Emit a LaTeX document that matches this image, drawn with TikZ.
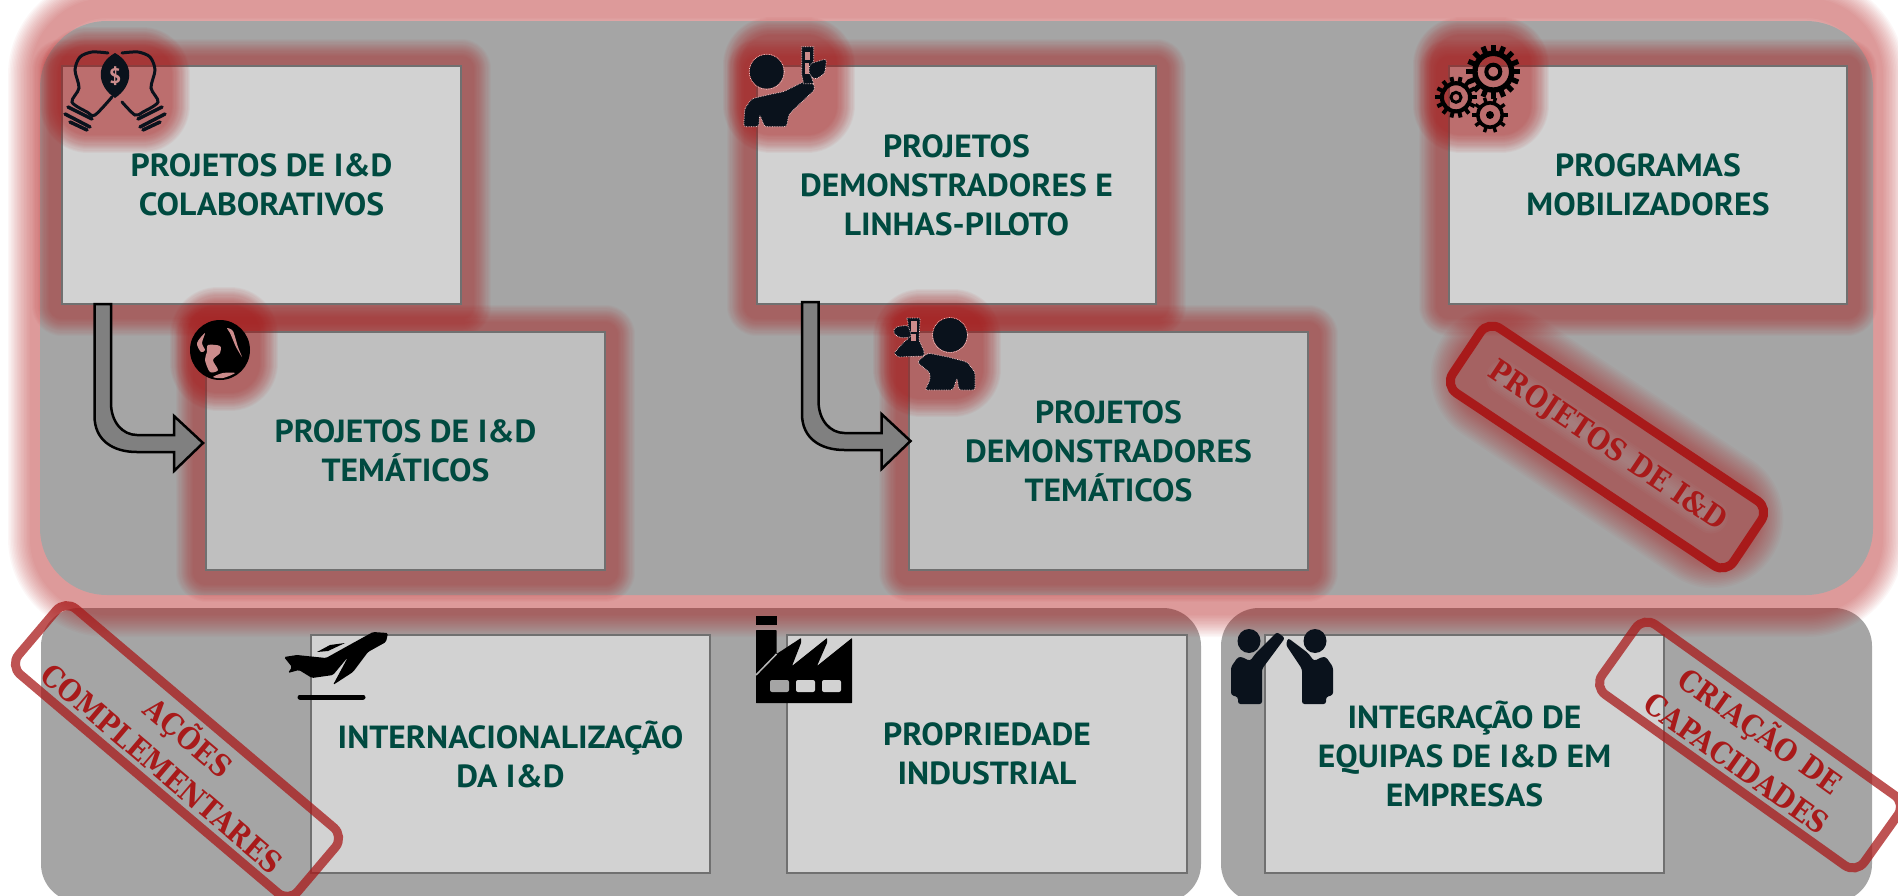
\documentclass[tikz,border=0pt]{standalone}
\usepackage{fontspec}
\usetikzlibrary{calc}
\setmainfont{PT Sans}
\newfontfamily\boxfont[BoldFeatures={FakeStretch=1.05}]{PT Sans}
\newfontfamily\stampfont[BoldFeatures={FakeStretch=0.88}]{DejaVu Serif}
\definecolor{panelc}{HTML}{A5A5A5}
\definecolor{boxa}{HTML}{D2D2D2}
\definecolor{boxb}{HTML}{BFBFBF}
\definecolor{edgec}{HTML}{707070}
\definecolor{textc}{HTML}{004A40}
\definecolor{glowc}{HTML}{B01818}
\definecolor{stampc}{HTML}{A81A1A}
\definecolor{inkc}{HTML}{0A121C}
\definecolor{tintc}{HTML}{CC8C8C}
\tikzset{
  panel/.style={rectangle,fill=panelc,anchor=north west,rounded corners=38,outer sep=0,inner sep=0},
  cardbox/.style={rectangle,draw=edgec,line width=2.5,anchor=north west,outer sep=0,inner sep=0,
    minimum width=399,minimum height=238,align=center,text=textc,
    font=\boxfont\bfseries\fontsize{32}{39}\selectfont},
  stamp/.style={rectangle,draw=stampc,line width=9,rounded corners=14,inner sep=0,outer sep=0,
    align=center,text=stampc,font=\stampfont\bfseries\fontsize{30}{40}\selectfont},
  bentblock/.style={draw=black,fill=gray,line width=2.5,line join=miter},
  halo/.style={draw=glowc,draw opacity=0.035,line join=round,line cap=round},
  iconhalo/.style={draw=glowc,draw opacity=0.042,line join=round,line cap=round},
  inkshape/.style={fill=inkc,draw=white!85!red,line width=0.7,densely dotted},
}
\newcommand\glowpath[3]{%
  \foreach \i in {0,...,15}{%
    \pgfmathsetmacro\glw{2*(#2-(#2-#1)*\i/15)}%
    \draw[halo,line width=\glw pt] #3;
  }}
\newcommand\glowbox[4]{\glowpath{13}{30}{(#1,#2+3) rectangle (#1+#3,#2+#4+3)}}
\newcommand\glowicon[4]{%
  \foreach \i in {0,...,15}{%
    \pgfmathsetmacro\glw{2*(48-18*\i/15)}%
    \draw[iconhalo,line width=\glw pt] (#1-#3+48,#2-#4+48) rectangle (#1+#3-48,#2+#4-48);
  }}
% centre x, centre y, outer radius, number of teeth
\newcommand\gearwheel[4]{%
  \draw[black,line width=#3*0.2] (#1,#2) circle [radius=#3*0.68];
  \pgfmathsetmacro\gstep{360/#4}%
  \foreach \k in {1,...,#4}{%
    \pgfmathsetmacro\ga{\k*\gstep}%
    \draw[black,line width=#3*0.19] ($(#1,#2)+(\ga:#3*0.7)$) -- ($(#1,#2)+(\ga:#3)$);}%
}
\newcommand\personbody{%
  \fill[inkc] (0,0) circle [radius=17];
  \draw[white!85!red,line width=0.7,densely dotted] (0,0) circle [radius=17.5];
}
\newcommand\bulbhalf[2]{%
  \draw[inkc,line width=3,line cap=round] plot[smooth] coordinates {(#1,#2) (-20,25) (-28,22) (-43,12) (-36,-2) (-40,-20) (-35,-33) (-23,-38) (-7,-37)};
  \draw[inkc,line width=3.5,line cap=round] (-47,17) -- (-23,29);
  \draw[inkc,line width=3.5,line cap=round] (-50,24) -- (-25,37);
  \draw[inkc,line width=3.5,line cap=round] (-45,32) -- (-28,40);
}
\newcommand\bentarrow[1]{%
  \begin{scope}[shift={(#1)}]
  \draw[bentblock] (0,0) -- (0,112) .. controls (0,136) and (18,148) .. (42.5,148)
    -- (79.5,148) -- (79.5,167) -- (108.5,139) -- (79.5,112) -- (79.5,131) -- (42.5,131)
    .. controls (28,131) and (16.5,118) .. (16.5,99) -- (16.5,0) -- cycle;
  \end{scope}}
% arm tip points differ between the two figures
\newcommand\highfiveperson[2]{%
  \fill[inkc] (1249,641) ellipse [x radius=11.5,y radius=12];
  \fill[inkc,rounded corners=2.5] (1238,657) -- (1231,667) -- (1231,695) -- (1238,697) -- (1238,704) -- (1262,704) -- (1262,669) -- #1 -- #2 -- (1256,653) -- (1250,661) -- (1242,657) -- cycle;
}
\begin{document}
\begin{tikzpicture}[x=1pt,y=-1pt]
\useasboundingbox (0,0) rectangle (1898,895);
\clip (0,0) rectangle (1898,895);

% lower panels
\node[panel,minimum width=1160,minimum height=294] (lowa) at (41,608) {};
\node[panel,minimum width=651,minimum height=294] (lowb) at (1221,608) {};

% top panel with glow
\glowpath{10}{32}{[rounded corners=67] (40,8) rectangle (1873,605)}
\node[panel,rounded corners=67,minimum width=1833,minimum height=574] (top) at (40,21) {};

% cards with glow
\glowbox{62}{66}{399}{237}
\node[cardbox,fill=boxa] (b1) at (62,66) {PROJETOS DE I\&D\\COLABORATIVOS};
\glowbox{206}{332}{399}{237}
\node[cardbox,fill=boxb] (b2) at (206,332) {PROJETOS DE I\&D\\TEMÁTICOS};
\glowbox{757}{66}{399}{237}
\node[cardbox,fill=boxa] (b3) at (757,66) {PROJETOS\\DEMONSTRADORES E\\LINHAS-PILOTO};
\glowbox{909}{332}{399}{237}
\node[cardbox,fill=boxb] (b4) at (909,332) {PROJETOS\\DEMONSTRADORES\\TEMÁTICOS};
\glowbox{1449}{66}{398}{237}
\node[cardbox,fill=boxa,minimum width=398] (b5) at (1449,66) {PROGRAMAS\\MOBILIZADORES};

\node[cardbox,fill=boxa] (b6) at (311,635) {INTERNACIONALIZAÇÃO\\DA I\&D};
\node[cardbox,fill=boxa,minimum width=400] (b7) at (787,635) {PROPRIEDADE\\INDUSTRIAL};
\node[cardbox,fill=boxa] (b8) at (1265,635) {INTEGRAÇÃO DE\\EQUIPAS DE I\&D EM\\EMPRESAS};

% bent block arrows
\coordinate (sa) at ($(b1.south west)+(32.5,0)$);
\bentarrow{sa}
\coordinate (sb) at ($(b3.south west)+(45,-2)$);
\bentarrow{sb}

% icon glows
\glowicon{115}{90}{75}{63}
\glowicon{224}{349}{54}{62}
\glowicon{789}{85}{66}{68}
\glowicon{937}{353}{64}{64}
\glowicon{1481}{85}{68}{68}

% light bulbs
\begin{scope}[shift={(115,90)}]
  \bulbhalf{-3}{7}
  \begin{scope}[xscale=-1]\bulbhalf{-7}{12}\end{scope}
  \fill[inkc] (0,-37) .. controls (-20,-26) and (-18,-4) .. (0,8) .. controls (18,-4) and (20,-26) .. (0,-37) -- cycle;
  \node[text=tintc,font=\boxfont\bfseries\fontsize{21}{21}\selectfont,inner sep=0] (dollar) at (0,-14) {\$};
\end{scope}

% globe
\begin{scope}[shift={(220,350)}]
  \fill[black] (0,0) circle [radius=30];
  \fill[tintc] plot[smooth cycle] coordinates {(-15,-17) (-23,-7) (-19,2) (-15,0) (-18,-7)};
  \fill[tintc] plot[smooth cycle,tension=0.5] coordinates {(-12,-5) (0,-4) (0,3) (-7,10) (-2,20) (-10,22) (-15,10) (-13,2)};
  \fill[tintc] plot[smooth cycle,tension=0.4] coordinates {(7,-22) (13,-19) (18,-3) (22,7) (16,-3) (13,-10) (10,-17)};
  \fill[tintc] plot[smooth cycle] coordinates {(-7,27) (3,23) (15,23) (3,28)};
\end{scope}

% scientist with test tube
\begin{scope}[shift={(766.7,71.7)}]
  \personbody
  \path[inkshape,rounded corners=2.5] (-23,55) -- (-22,37) -- (-15,27) -- (2,23) -- (17,20) -- (37,10) -- (47,12) -- (48,18) -- (30,35) -- (22,43) -- (20,55) -- (-2,55) -- (-7,43) -- (-8,55) -- cycle;
  \path[inkshape] (35,-25) -- (47,-25) -- (47,-11) -- (44,3) -- (47,12) -- (37,12) -- (35,3) -- cycle;
  \fill[tintc] (38,-20) rectangle (43,-12);
  \fill[tintc] (38,-9) rectangle (42,2);
  \path[inkshape,rounded corners=3] (43,-8) -- (60,-13) -- (58,2) -- (48,8) -- (42,2) -- cycle;
\end{scope}

% scientist with flask
\begin{scope}[shift={(950,335)}]
  \personbody
  \path[inkshape,rounded corners=2.5] (25,55) -- (25,37) -- (17,27) -- (-2,22) -- (-22,18) -- (-33,27) -- (-20,38) -- (-20,45) -- (-25,55) -- (3,55) -- (7,43) -- (9,55) -- cycle;
  \path[inkshape,rounded corners=1] (-44,-17) -- (-30,-17) -- (-30,-14) -- (-31,5) -- (-26,16) -- (-26,21) -- (-52,22) -- (-56,18) -- (-46,7) -- (-42,4) -- (-42,-14) -- cycle;
  \fill[tintc] (-39,-14) rectangle (-33,-3);
  \fill[tintc] (-39,-1) rectangle (-34,6);
  \path[inkshape,rounded corners=3] (-55,-8) -- (-42,-10) -- (-38,2) -- (-50,3) -- (-57,-2) -- cycle;
\end{scope}

% gears
\gearwheel{1493.3}{71.7}{27}{16}
\draw[black,line width=4] (1493.3,71.7) circle [radius=7];
\gearwheel{1456}{97.3}{20.7}{14}
\draw[black,line width=3] (1456,97.3) circle [radius=5];
\gearwheel{1490}{115}{18}{10}
\fill[black] (1490,115) circle [radius=4];

% stamp of the top panel
\coordinate (stc) at (1607,447);
\glowpath{46}{70}{($(stc)+(33.8:-128)$) -- ($(stc)+(33.8:128)$)}
\foreach \wd in {6,10,...,34}{\draw[panelc,draw opacity=0.07,line width=\wd,line cap=round] ($(stc)+(33.8:-125)$) -- ($(stc)+(33.8:125)$);}
\node[stamp,rotate=-33.8,minimum width=338,minimum height=78] (sta) at (stc) {PROJETOS DE I\&D};

% airplane
\fill[black,rounded corners=1.5] (388,633) -- (373,632) -- (353,643) -- (326,658) -- (297,655) -- (284,657) -- (292,667) -- (288,673) -- (299,670) -- (312,678) -- (333,675) -- (348,657) -- (333,685) -- (353,672) -- (368,652) -- (386,642) -- cycle;
\fill[black] (317,652) -- (330,645) -- (345,643) -- (328,651) -- cycle;
\draw[black,line width=5,line cap=round] (300,697) -- (363,697);

% factory
\fill[black] (756,616) rectangle (776.5,625);
\fill[black,rounded corners=0.5] (756,630) -- (776.5,630) -- (776.5,654) -- (801,638) -- (801,643) -- (792,666) -- (827,638) -- (827,643) -- (817,666) -- (852,638) -- (852,703) -- (756,703) -- cycle;
\draw[panelc!60!boxa,line width=1.5] (756,675) -- (776.5,654);
\fill[panelc,rounded corners=2] (770,680) rectangle (789,692);
\fill[boxa,rounded corners=2] (796,680) rectangle (815,692);
\fill[boxa,rounded corners=2] (822,680) rectangle (841,692);

% high five
\highfiveperson{(1285,638)}{(1277,632)}
\begin{scope}[shift={(2564,0)},xscale=-1]\highfiveperson{(1278,645)}{(1276,638)}\end{scope}

% stamps of the lower panels
\node[stamp,rotate=-40.3,minimum width=366,minimum height=86,draw opacity=0.75] (stb) at (177,751) {AÇÕES\\COMPLEMENTARES};
\node[stamp,rotate=-35.5,minimum width=322,minimum height=86,draw opacity=0.75] (stc2) at (1750,745) {CRIAÇÃO DE\\CAPACIDADES};
\end{tikzpicture}
\end{document}
